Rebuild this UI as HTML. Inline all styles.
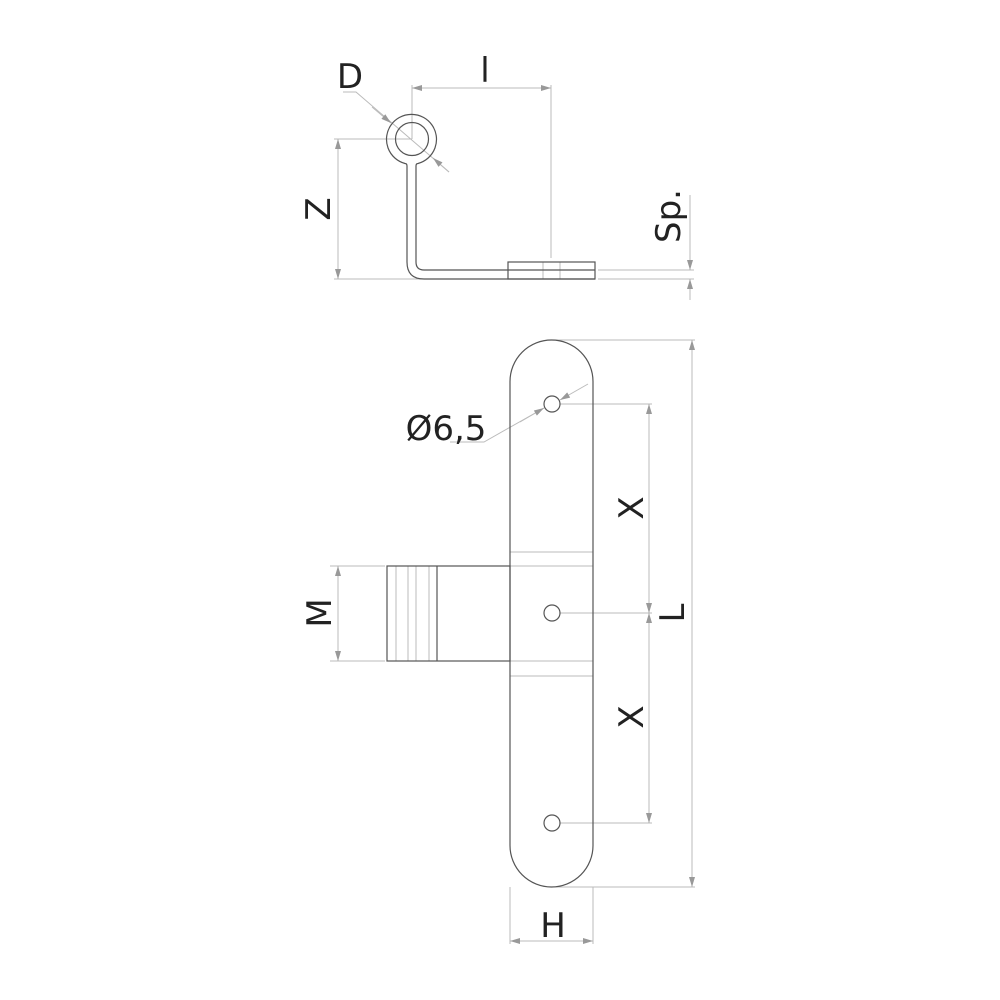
<!DOCTYPE html>
<html><head><meta charset="utf-8"><style>
html,body{margin:0;padding:0;background:#fff;}
svg{display:block;}
text{font-family:"DejaVu Sans","Liberation Sans",sans-serif;fill:#222;}
</style></head><body>
<svg width="1000" height="1000" viewBox="0 0 1000 1000" xmlns="http://www.w3.org/2000/svg">
<defs>
<marker id="a" viewBox="0 0 10 6" refX="10" refY="3" markerWidth="16" markerHeight="6" markerUnits="userSpaceOnUse" orient="auto-start-reverse">
<path d="M0,0 L10,3 L0,6 Z" fill="#999"/></marker>
</defs>
<g fill="none" stroke="#bbb" stroke-width="1">
<line x1="412" y1="85" x2="412" y2="139"/>
<line x1="551" y1="85" x2="551" y2="258"/>
<line x1="412" y1="88" x2="551" y2="88" marker-start="url(#a)" marker-end="url(#a)"/>
<line x1="334" y1="139" x2="412" y2="139"/>
<line x1="334" y1="279" x2="508" y2="279"/>
<line x1="338" y1="139" x2="338" y2="279" marker-start="url(#a)" marker-end="url(#a)"/>
<polyline points="343,92 356,92 449,172"/>
<line x1="372" y1="107" x2="391" y2="123" marker-end="url(#a)"/>
<line x1="449" y1="172" x2="433" y2="158" marker-end="url(#a)"/>
<line x1="598" y1="270" x2="694" y2="270"/>
<line x1="598" y1="279" x2="694" y2="279"/>
<line x1="690" y1="195" x2="690" y2="270" marker-end="url(#a)"/>
<line x1="690" y1="300" x2="690" y2="279" marker-end="url(#a)"/>
<line x1="553" y1="340" x2="695" y2="340"/>
<line x1="553" y1="887" x2="695" y2="887"/>
<line x1="692" y1="340" x2="692" y2="887" marker-start="url(#a)" marker-end="url(#a)"/>
<line x1="560" y1="404" x2="652" y2="404"/>
<line x1="560" y1="613" x2="652" y2="613"/>
<line x1="560" y1="823" x2="652" y2="823"/>
<line x1="649" y1="404" x2="649" y2="613" marker-start="url(#a)" marker-end="url(#a)"/>
<line x1="649" y1="613" x2="649" y2="823" marker-start="url(#a)" marker-end="url(#a)"/>
<line x1="510" y1="887" x2="510" y2="944"/>
<line x1="593" y1="887" x2="593" y2="944"/>
<line x1="510" y1="941" x2="593" y2="941" marker-start="url(#a)" marker-end="url(#a)"/>
<line x1="330" y1="566" x2="385" y2="566"/>
<line x1="330" y1="661" x2="385" y2="661"/>
<line x1="338" y1="566" x2="338" y2="661" marker-start="url(#a)" marker-end="url(#a)"/>
<polyline points="450,442 484,442 544,408"/>
<line x1="520" y1="422" x2="544" y2="408" marker-end="url(#a)"/>
<line x1="588" y1="384" x2="560" y2="400" marker-end="url(#a)"/>
<line x1="510" y1="552" x2="593" y2="552"/>
<line x1="510" y1="566" x2="593" y2="566"/>
<line x1="510" y1="661" x2="593" y2="661"/>
<line x1="510" y1="676" x2="593" y2="676"/>
<line x1="396" y1="566" x2="396" y2="661"/>
<line x1="408" y1="566" x2="408" y2="661"/>
<line x1="416" y1="566" x2="416" y2="661"/>
<line x1="429" y1="566" x2="429" y2="661"/>
<line x1="543" y1="262" x2="543" y2="279"/>
<line x1="560" y1="262" x2="560" y2="279"/>
</g>
<g fill="none" stroke="#555" stroke-width="1.2">
<path d="M416,262 L416,166 Q416,163.5 418,163.5 A25,25 0 1 0 405,163.5 Q407,163.5 407,166 L407,262 Q407,279 424,279 L595,279"/>
<path d="M416,262 Q416,270 424,270 L595,270"/>
<circle cx="412" cy="139" r="16.5"/>
<rect x="508" y="262" width="87" height="17"/>
<path d="M510,381.5 A41.5,41.5 0 0 1 593,381.5 L593,845.5 A41.5,41.5 0 0 1 510,845.5 Z"/>
<circle cx="552" cy="404" r="8"/>
<circle cx="552" cy="613" r="8"/>
<circle cx="552" cy="823" r="8"/>
<rect x="387" y="566" width="123" height="95"/>
<line x1="437" y1="566" x2="437" y2="661"/>
</g>
<g font-size="34">
<text x="350" y="88" text-anchor="middle">D</text>
<text x="485" y="82" text-anchor="middle">l</text>
<text transform="translate(330,209) rotate(-90)" text-anchor="middle">Z</text>
<text transform="translate(680,216) rotate(-90)" text-anchor="middle">Sp.</text>
<text x="446" y="440" text-anchor="middle">Ø6,5</text>
<text transform="translate(643,508) rotate(-90)" text-anchor="middle">X</text>
<text transform="translate(643,717) rotate(-90)" text-anchor="middle">X</text>
<text transform="translate(684,613) rotate(-90)" text-anchor="middle">L</text>
<text transform="translate(331,613) rotate(-90)" text-anchor="middle">M</text>
<text x="553" y="937" text-anchor="middle">H</text>
</g>
</svg>
</body></html>
